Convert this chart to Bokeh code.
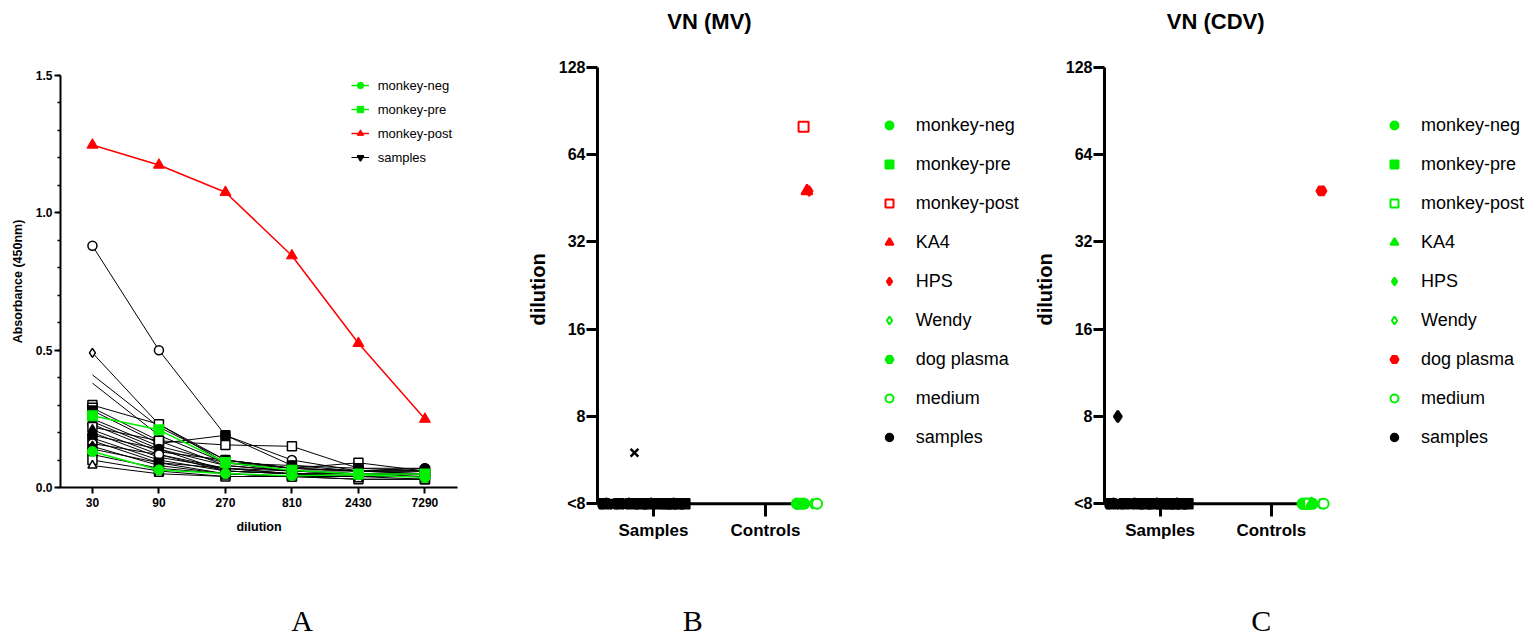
from bokeh.plotting import figure
from bokeh.layouts import row
from bokeh.models import (Range1d, FixedTicker, SingleIntervalTicker, Legend, LegendItem,
                          NumeralTickFormatter, LinearAxis, LinearScale)
from bokeh.embed import file_html
from bokeh.resources import INLINE

# ---------------- data: panel A ----------------
dilutions = [30, 90, 270, 810, 2430, 7290]
dilution_labels = ["30", "90", "270", "810", "2430", "7290"]
monkey_neg_A = [0.131, 0.064, 0.051, 0.043, 0.046, 0.036]
monkey_pre_A = [0.261, 0.210, 0.091, 0.063, 0.049, 0.049]
monkey_post_A = [1.247, 1.174, 1.075, 0.844, 0.525, 0.249]
samples_A = [
    [0.88, 0.50, 0.19, 0.10, 0.06, 0.07],
    [0.49, 0.23, 0.09, 0.07, 0.06, 0.05],
    [0.41, 0.22, 0.10, 0.07, 0.06, 0.05],
    [0.38, 0.19, 0.09, 0.06, 0.05, 0.05],
    [0.30, 0.23, 0.10, 0.07, 0.09, 0.06],
    [0.29, 0.17, 0.155, 0.15, 0.07, 0.06],
    [0.28, 0.16, 0.19, 0.08, 0.06, 0.06],
    [0.25, 0.15, 0.09, 0.08, 0.07, 0.07],
    [0.24, 0.14, 0.08, 0.06, 0.06, 0.06],
    [0.23, 0.13, 0.10, 0.07, 0.06, 0.06],
    [0.22, 0.17, 0.08, 0.06, 0.05, 0.05],
    [0.21, 0.12, 0.07, 0.06, 0.05, 0.05],
    [0.20, 0.11, 0.07, 0.05, 0.05, 0.05],
    [0.19, 0.14, 0.06, 0.05, 0.04, 0.04],
    [0.18, 0.10, 0.06, 0.05, 0.04, 0.04],
    [0.17, 0.09, 0.07, 0.05, 0.05, 0.04],
    [0.16, 0.12, 0.06, 0.05, 0.04, 0.04],
    [0.15, 0.08, 0.05, 0.04, 0.04, 0.04],
    [0.14, 0.09, 0.05, 0.04, 0.04, 0.03],
    [0.12, 0.07, 0.05, 0.04, 0.04, 0.04],
    [0.10, 0.06, 0.04, 0.04, 0.03, 0.03],
    [0.08, 0.05, 0.04, 0.04, 0.03, 0.03],
]
samples_A_markers = ["circle", "diamond", None, None, "square", "square", "square", "circle",
                     "inverted_triangle", "circle", "square", "triangle", "diamond", "circle",
                     "square", "inverted_triangle", "circle", "triangle", "square", "circle",
                     "square", "triangle"]
samples_A_open = [True, True, False, False, True, True, False, False, False, False, True, False,
                  False, False, False, False, True, False, False, False, True, True]

# ---------------- data: panels B and C ----------------
vn_ticks = [4, 8, 16, 32, 64, 128]
vn_tick_labels = ["<8", "8", "16", "32", "64", "128"]
group_ticks = [1, 2]
group_labels = ["Samples", "Controls"]
group_span = [0.5, 2.5]

samples_B_x = [0.54, 0.56, 0.58, 0.60, 0.62, 0.64, 0.67, 0.69, 0.71, 0.73, 0.76, 0.78, 0.81,
               0.84, 0.86, 0.88, 0.90, 0.92, 0.94, 0.96, 0.98, 1.01, 1.04, 1.06, 1.08, 1.10,
               1.12, 1.14, 1.16, 1.18, 1.20, 1.22, 1.24, 1.26, 1.28]
samples_B_y = [4, 4, 4, 4, 4, 4, 4, 4, 4, 4, 4, 4, 4, 4, 4, 4, 4, 4, 4, 4, 4, 4, 4, 4, 4, 4,
               4, 4, 4, 4, 4, 4, 4, 4, 4]
samples_B_extra_x = [0.83]
samples_B_extra_y = [6]

samples_C_x = [0.54, 0.56, 0.58, 0.60, 0.62, 0.64, 0.66, 0.68, 0.71, 0.73, 0.75, 0.77, 0.80,
               0.82, 0.84, 0.86, 0.88, 0.90, 0.92, 0.94, 0.97, 0.99, 1.01, 1.03, 1.05, 1.07,
               1.09, 1.11, 1.13, 1.15, 1.17, 1.19, 1.21, 1.23, 1.25]
samples_C_y = [4, 4, 4, 4, 4, 4, 4, 4, 4, 4, 4, 4, 4, 4, 4, 4, 4, 4, 4, 4, 4, 4, 4, 4, 4, 4,
               4, 4, 4, 4, 4, 4, 4, 4, 4]
samples_C_extra_x = [0.62]
samples_C_extra_y = [8]
samples_markers = ["circle", "square", "triangle", "diamond", "inverted_triangle", "hex", "circle",
                   "square", "x", "diamond", "circle", "triangle", "square", "hex", "circle",
                   "square", "diamond", "inverted_triangle", "circle", "square", "triangle",
                   "circle", "square", "diamond", "hex", "circle", "square", "circle", "square",
                   "triangle", "circle", "square", "diamond", "circle", "square"]

control_names = ["monkey-neg", "monkey-pre", "monkey-post", "KA4", "HPS", "Wendy",
                 "dog plasma", "medium"]
control_markers = ["circle", "square", "square", "triangle", "diamond", "diamond", "hex", "circle"]
control_open = [False, False, True, False, False, True, False, True]
controls_B_x = [2.28, 2.31, 2.34, 2.37, 2.39, 2.42, 2.35, 2.46]
controls_B_y = [4, 4, 80, 48, 48, 4, 4, 4]
controls_B_color = ["#00f000", "#00f000", "#ff0000", "#ff0000", "#ff0000", "#00f000",
                    "#00f000", "#00f000"]
controls_C_x = [2.28, 2.31, 2.34, 2.36, 2.39, 2.44, 2.45, 2.47]
controls_C_y = [4, 4, 4, 4, 4, 4, 48, 4]
controls_C_color = ["#00f000", "#00f000", "#00f000", "#00f000", "#00f000", "#00f000",
                    "#ff0000", "#00f000"]

FONT = "Liberation Sans"
GREEN = "#00f000"
RED = "#ff0000"
H = 639


def add_text_axis(p, place, text, pos, standoff, font, size, style):
    ax = LinearAxis(x_range_name="px", ticker=FixedTicker(ticks=[pos]),
                    major_label_overrides={pos: text},
                    axis_line_color=None, major_tick_line_color=None, minor_tick_line_color=None,
                    major_tick_out=0, major_tick_in=0, minor_tick_out=0, minor_tick_in=0,
                    major_label_standoff=standoff, major_label_text_font=font,
                    major_label_text_font_size=size, major_label_text_font_style=style,
                    major_label_text_color="black")
    p.add_layout(ax, place)


# ---------------- panel A ----------------
pA = figure(width=520, height=H, min_border_left=60, min_border_right=63,
            min_border_top=75, min_border_bottom=H - 75 - 412, x_axis_type="log",
            x_range=Range1d(17.7, 12487), y_range=Range1d(0, 1.5), frame_align=False,
            output_backend="svg", toolbar_location=None)
pA.outline_line_color = None
pA.grid.visible = False
pA.extra_x_ranges = {"px": Range1d(0, 397)}
pA.extra_x_scales = {"px": LinearScale()}

sample_legend_rs = None
for vals, mk, op in zip(samples_A, samples_A_markers, samples_A_open):
    lr = pA.line(dilutions, vals, line_color="black", line_width=1)
    if mk is not None:
        sr = pA.scatter(dilutions, vals, marker=mk, size=9, line_color="black", line_width=1.5,
                        fill_color="white" if op else "black")
        if mk == "inverted_triangle" and sample_legend_rs is None:
            sample_legend_rs = [lr, sr]

neg_l = pA.line(dilutions, monkey_neg_A, line_color=GREEN, line_width=1.5)
neg_s = pA.scatter(dilutions, monkey_neg_A, marker="circle", size=10, color=GREEN)
pre_l = pA.line(dilutions, monkey_pre_A, line_color=GREEN, line_width=1.5)
pre_s = pA.scatter(dilutions, monkey_pre_A, marker="square", size=10, color=GREEN)
post_l = pA.line(dilutions, monkey_post_A, line_color=RED, line_width=1.5)
post_s = pA.scatter(dilutions, monkey_post_A, marker="triangle", size=11, color=RED)

legA = Legend(items=[LegendItem(label="monkey-neg", renderers=[neg_l, neg_s]),
                     LegendItem(label="monkey-pre", renderers=[pre_l, pre_s]),
                     LegendItem(label="monkey-post", renderers=[post_l, post_s]),
                     LegendItem(label="samples", renderers=sample_legend_rs)],
              location=(290.7, 321.7), glyph_width=18, glyph_height=16, label_height=16,
              spacing=8, padding=0, margin=0, label_standoff=9, border_line_color=None,
              background_fill_alpha=0, label_text_font=FONT, label_text_font_size="13px",
              label_text_color="black")
pA.add_layout(legA)

xa = pA.xaxis[0]
ya = pA.yaxis[0]
xa.ticker = FixedTicker(ticks=dilutions, minor_ticks=[])
xa.major_label_overrides = dict(zip(dilutions, dilution_labels))
ya.ticker = SingleIntervalTicker(interval=0.5, num_minor_ticks=5)
ya.formatter = NumeralTickFormatter(format="0.0")
xa.axis_label = "dilution"
ya.axis_label = "Absorbance (450nm)"
for ax in (xa, ya):
    ax.axis_line_width = 2
    ax.major_tick_line_width = 2
    ax.minor_tick_line_width = 1.5
    ax.major_tick_in = 0
    ax.major_tick_out = 6
    ax.minor_tick_in = 0
    ax.minor_tick_out = 3
    ax.major_label_text_font = FONT
    ax.major_label_text_font_style = "bold"
    ax.major_label_text_font_size = "12px"
    ax.major_label_text_color = "black"
    ax.axis_label_text_font = FONT
    ax.axis_label_text_font_style = "bold"
    ax.axis_label_text_color = "black"
    ax.axis_label_text_font_size = "12.5px"
xa.minor_tick_line_color = None
xa.major_label_standoff = 4
xa.axis_label_standoff = 10
ya.major_label_standoff = 2
ya.axis_label_standoff = 8
add_text_axis(pA, "below", "A", 241.7, 67, "Liberation Serif", "30px", "normal")


# ---------------- panels B and C ----------------
def vn_panel(title, left, fw, right, sx, sy, ex, ey, ex_marker, cx, cy, ccol, leg_x, letter,
             lx):
    scale = fw / (group_span[1] - group_span[0])
    x_end = group_span[0] + (fw + right) / scale
    p = figure(width=left + fw + right, height=H, min_border_left=left,
               min_border_right=0, min_border_top=67, min_border_bottom=H - 67 - 445,
               y_axis_type="log", y_range=Range1d(3.76, 128),
               x_range=Range1d(group_span[0], x_end),
               frame_align=False, output_backend="svg", toolbar_location=None)
    p.outline_line_color = None
    p.grid.visible = False
    p.extra_x_ranges = {"px": Range1d(0, fw + right)}
    p.extra_x_scales = {"px": LinearScale()}

    groups = {}
    for x, y, m in zip(sx, sy, samples_markers):
        groups.setdefault(m, ([], []))
        groups[m][0].append(x)
        groups[m][1].append(y)
    samp_r = None
    for m, (xs, ys) in groups.items():
        r = p.scatter(xs, ys, marker=m, size=10, line_color="black", line_width=1.5,
                      fill_color="black")
        if m == "circle":
            samp_r = r
    p.scatter(ex, ey, marker=ex_marker, size=11, line_color="black", line_width=2.5,
              fill_color="black")

    # horizontal axis line at the "<8" level, over the group span
    p.segment(x0=[group_span[0]], y0=[vn_ticks[0]], x1=[group_span[1]], y1=[vn_ticks[0]],
              line_color="black", line_width=3)

    items = []
    for name, m, op, x, y, c in zip(control_names, control_markers, control_open, cx, cy, ccol):
        r = p.scatter([x], [y], marker=m, size=10 if m != "triangle" else 11, line_color=c,
                      line_width=2, fill_color="white" if op else c)
        items.append(LegendItem(label=name, renderers=[r]))
    items.append(LegendItem(label="samples", renderers=[samp_r]))
    leg = Legend(items=items, location=(leg_x, 63), glyph_width=20, glyph_height=22,
                 label_height=22, spacing=17, padding=0, margin=0, label_standoff=17,
                 border_line_color=None, background_fill_alpha=0, label_text_font=FONT,
                 label_text_font_size="18px", label_text_color="black")
    p.add_layout(leg)

    xa = p.xaxis[0]
    ya = p.yaxis[0]
    ya.ticker = FixedTicker(ticks=vn_ticks, minor_ticks=[])
    ya.major_label_overrides = dict(zip(vn_ticks, vn_tick_labels))
    ya.bounds = (4, 128)
    xa.ticker = FixedTicker(ticks=group_ticks, minor_ticks=[])
    xa.major_label_overrides = dict(zip(group_ticks, group_labels))
    xa.axis_line_color = None
    ya.axis_label = "dilution"
    for ax in (xa, ya):
        ax.axis_line_width = 3
        ax.major_tick_line_width = 3
        ax.major_tick_in = 0
        ax.minor_tick_line_color = None
        ax.major_label_text_font = FONT
        ax.major_label_text_font_style = "bold"
        ax.major_label_text_color = "black"
    ya.major_tick_out = 11
    ya.major_label_standoff = 1
    ya.major_label_text_font_size = "16px"
    ya.axis_label_text_font = FONT
    ya.axis_label_text_font_style = "bold"
    ya.axis_label_text_font_size = "20px"
    ya.axis_label_text_color = "black"
    ya.axis_label_standoff = 7
    xa.major_tick_in = 8
    xa.major_tick_out = 5
    xa.major_label_standoff = 4
    xa.major_label_text_font_size = "17px"
    add_text_axis(p, "above", title, fw / 2, 34, FONT, "22px", "bold")
    add_text_axis(p, "below", letter, lx, 61, "Liberation Serif", "30px", "normal")
    return p


pB = vn_panel("VN (MV)", 77, 224, 209, samples_B_x, samples_B_y, samples_B_extra_x,
              samples_B_extra_y, "x", controls_B_x, controls_B_y, controls_B_color, 281.7,
              "B", 95.3)
pC = vn_panel("VN (CDV)", 73, 223, 202, samples_C_x, samples_C_y, samples_C_extra_x,
              samples_C_extra_y, "diamond", controls_C_x, controls_C_y, controls_C_color, 280,
              "C", 157)

layout = row(pA, pB, pC)
open("out.html", "w").write(file_html(layout, INLINE))
